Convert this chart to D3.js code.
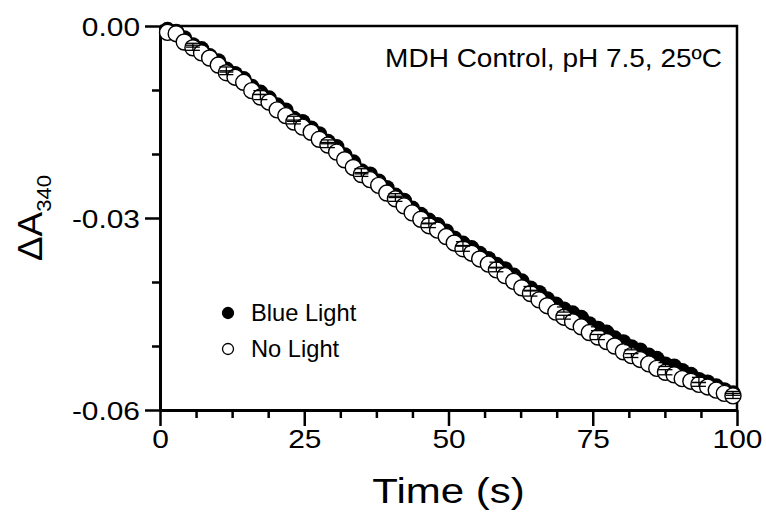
<!DOCTYPE html>
<html>
<head>
<meta charset="utf-8">
<script src="https://cdn.jsdelivr.net/npm/d3@7"></script>
<style>
  body { margin: 0; background: #fff; }
  text { font-family: "Liberation Sans", Arial, sans-serif; fill: #000; }
</style>
</head>
<body>
<div id="chart"></div>
<script>
// sample times (s)
const times = [1.3, 2.8, 4.2, 5.7, 7.2, 8.6, 10.1, 11.5, 13.0, 14.5, 15.9, 17.4, 18.9, 20.3, 21.8, 23.2,
  24.7, 26.2, 27.6, 29.1, 30.6, 32.0, 33.5, 34.9, 36.4, 37.9, 39.3, 40.8, 42.3, 43.7, 45.2, 46.6,
  48.1, 49.6, 51.0, 52.5, 54.0, 55.4, 56.9, 58.3, 59.8, 61.3, 62.7, 64.2, 65.7, 67.1, 68.6, 70.0,
  71.5, 73.0, 74.4, 75.9, 77.4, 78.8, 80.3, 81.7, 83.2, 84.7, 86.1, 87.6, 89.1, 90.5, 92.0, 93.4,
  94.9, 96.4, 97.8, 99.3];

const blueLight = [-0.0006, -0.0009, -0.0019, -0.0030, -0.0036, -0.0047, -0.0055, -0.0068, -0.0075, -0.0083,
  -0.0095, -0.0104, -0.0113, -0.0124, -0.0132, -0.0145, -0.0150, -0.0160, -0.0169, -0.0181,
  -0.0189, -0.0202, -0.0213, -0.0227, -0.0232, -0.0243, -0.0253, -0.0265, -0.0273, -0.0285,
  -0.0295, -0.0304, -0.0311, -0.0321, -0.0332, -0.0340, -0.0347, -0.0356, -0.0364, -0.0373,
  -0.0380, -0.0390, -0.0399, -0.0410, -0.0417, -0.0427, -0.0435, -0.0443, -0.0449, -0.0456,
  -0.0466, -0.0473, -0.0479, -0.0488, -0.0494, -0.0502, -0.0507, -0.0515, -0.0520, -0.0529,
  -0.0532, -0.0539, -0.0545, -0.0553, -0.0557, -0.0563, -0.0569, -0.0574];

const noLight = [-0.0010, -0.0012, -0.0025, -0.0034, -0.0042, -0.0050, -0.0061, -0.0073, -0.0080, -0.0088,
  -0.0101, -0.0111, -0.0119, -0.0131, -0.0140, -0.0150, -0.0158, -0.0166, -0.0177, -0.0186,
  -0.0197, -0.0209, -0.0221, -0.0232, -0.0240, -0.0249, -0.0261, -0.0270, -0.0281, -0.0292,
  -0.0302, -0.0312, -0.0319, -0.0329, -0.0339, -0.0348, -0.0355, -0.0364, -0.0372, -0.0381,
  -0.0390, -0.0399, -0.0409, -0.0418, -0.0428, -0.0437, -0.0447, -0.0455, -0.0462, -0.0470,
  -0.0479, -0.0486, -0.0493, -0.0500, -0.0509, -0.0515, -0.0521, -0.0528, -0.0535, -0.0541,
  -0.0545, -0.0551, -0.0555, -0.0560, -0.0564, -0.0569, -0.0574, -0.0578];

// error bars only on every 4th sample
const errIndex = [3, 7, 11, 15, 19, 23, 27, 31, 35, 39, 43, 47, 51, 55, 59, 63, 67];
const blueErr = [0.0003, 0.0004, 0.0003, 0.0004, 0.0003, 0.0004, 0.0003, 0.0004, 0.0003,
  0.0004, 0.0003, 0.0004, 0.0003, 0.0004, 0.0003, 0.0004, 0.0003];
const noErr = [0.0004, 0.0003, 0.0004, 0.0003, 0.0004, 0.0003, 0.0004, 0.0003, 0.0004,
  0.0003, 0.0004, 0.0003, 0.0004, 0.0003, 0.0004, 0.0003, 0.0004];

const xMajor = [0, 25, 50, 75, 100];
const xMinor = [6.25, 12.5, 18.75, 31.25, 37.5, 43.75, 56.25, 62.5, 68.75, 81.25, 87.5, 93.75];
const yMajor = [0, -0.03, -0.06];
const yMinor = [-0.01, -0.02, -0.04, -0.05];
const yLabels = ["0.00", "-0.03", "-0.06"];

const margin = { top: 26, right: 29, bottom: 102, left: 160 };
const width = 766 - margin.left - margin.right;
const height = 512 - margin.top - margin.bottom;

const svg = d3.select("#chart")
    .append("svg")
    .attr("width", 766)
    .attr("height", 512)
    .append("g")
    .attr("transform", `translate(${margin.left},${margin.top})`);

const x = d3.scaleLinear().domain([0, 100]).range([0, width]);
const y = d3.scaleLinear().domain([-0.06, 0]).range([height, 0]);

// the original figure's text is a bit wider than Arial, so stretch it horizontally
function wideText(sel, sx, px, py) {
    sel.attr("x", 0).attr("y", 0)
        .attr("transform", `translate(${px},${py}) scale(${sx},1)`);
}

// frame (top + right)
svg.append("path")
    .attr("d", `M0,0H${width}V${height}`)
    .attr("fill", "none")
    .attr("stroke", "#000")
    .attr("stroke-width", 2.5);

// minor ticks
svg.append("g")
    .attr("transform", `translate(0,${height})`)
    .call(d3.axisBottom(x).tickValues(xMinor).tickSize(8).tickFormat(""))
    .call(g => g.select(".domain").remove())
    .call(g => g.selectAll("line").attr("stroke-width", 2.5));

svg.append("g")
    .call(d3.axisLeft(y).tickValues(yMinor).tickSize(8).tickFormat(""))
    .call(g => g.select(".domain").remove())
    .call(g => g.selectAll("line").attr("stroke-width", 2.5));

// major axes
const xAxis = svg.append("g")
    .attr("transform", `translate(0,${height})`)
    .call(d3.axisBottom(x).tickValues(xMajor).tickSize(16).tickSizeOuter(0));

const yAxis = svg.append("g")
    .call(d3.axisLeft(y).tickValues(yMajor).tickSize(15).tickSizeOuter(0)
        .tickFormat((d, i) => yLabels[i]));

[xAxis, yAxis].forEach(a => {
    a.select(".domain").attr("stroke-width", 3);
    a.selectAll("line").attr("stroke-width", 2.5);
    a.selectAll("text")
        .attr("font-size", 26)
        .attr("font-family", "Liberation Sans, Arial, sans-serif");
});
xAxis.selectAll("text").attr("dy", null).call(wideText, 1.15, 0, 38);
yAxis.selectAll("text").attr("dy", null).call(wideText, 1.15, -20, 9);

// blue light points (drawn underneath)
svg.append("g")
    .selectAll("circle")
    .data(blueLight)
    .join("circle")
    .attr("cx", (d, i) => x(times[i]))
    .attr("cy", d => y(d))
    .attr("r", 8)
    .attr("fill", "#000");

// no light points
svg.append("g")
    .selectAll("circle")
    .data(noLight)
    .join("circle")
    .attr("cx", (d, i) => x(times[i]))
    .attr("cy", d => y(d))
    .attr("r", 8)
    .attr("fill", "#fff")
    .attr("stroke", "#000")
    .attr("stroke-width", 1.4);

// error bars
function errorBars(values, errs) {
    const g = svg.append("g").attr("stroke", "#000").attr("stroke-width", 1.3);
    errIndex.forEach((idx, k) => {
        const cx = x(times[idx]);
        const y0 = y(values[idx] + errs[k]);
        const y1 = y(values[idx] - errs[k]);
        g.append("line").attr("x1", cx).attr("x2", cx).attr("y1", y0).attr("y2", y1);
        g.append("line").attr("x1", cx - 7).attr("x2", cx + 7).attr("y1", y0).attr("y2", y0);
        g.append("line").attr("x1", cx - 7).attr("x2", cx + 7).attr("y1", y1).attr("y2", y1);
    });
}
errorBars(blueLight, blueErr);
errorBars(noLight, noErr);

// annotation
svg.append("text")
    .attr("text-anchor", "end")
    .attr("font-size", 25)
    .text("MDH Control, pH 7.5, 25ºC")
    .call(wideText, 1.12, 722 - margin.left, 67 - margin.top);

// legend
const legend = [
    { label: "Blue Light", fill: "#000" },
    { label: "No Light", fill: "#fff" }
];
legend.forEach((d, i) => {
    const ly = 313 - margin.top + i * 36;
    svg.append("circle")
        .attr("cx", 228 - margin.left)
        .attr("cy", ly)
        .attr("r", 5.5)
        .attr("fill", d.fill)
        .attr("stroke", "#000")
        .attr("stroke-width", 1.3);
    svg.append("text")
        .attr("font-size", 23)
        .text(d.label)
        .call(wideText, 1.03, 251 - margin.left, ly + 8);
});

// axis titles
svg.append("text")
    .attr("text-anchor", "middle")
    .attr("font-size", 35)
    .text("Time (s)")
    .call(wideText, 1.2, width / 2, 503 - margin.top);

const yt = svg.append("text")
    .attr("transform", `translate(${42 - margin.left},${y(-0.03)}) rotate(-90) scale(1.05,1)`)
    .attr("text-anchor", "middle")
    .attr("font-size", 35);
yt.append("tspan").text("ΔA");
yt.append("tspan").attr("font-size", 21).attr("dy", 9).text("340");
</script>
</body>
</html>
